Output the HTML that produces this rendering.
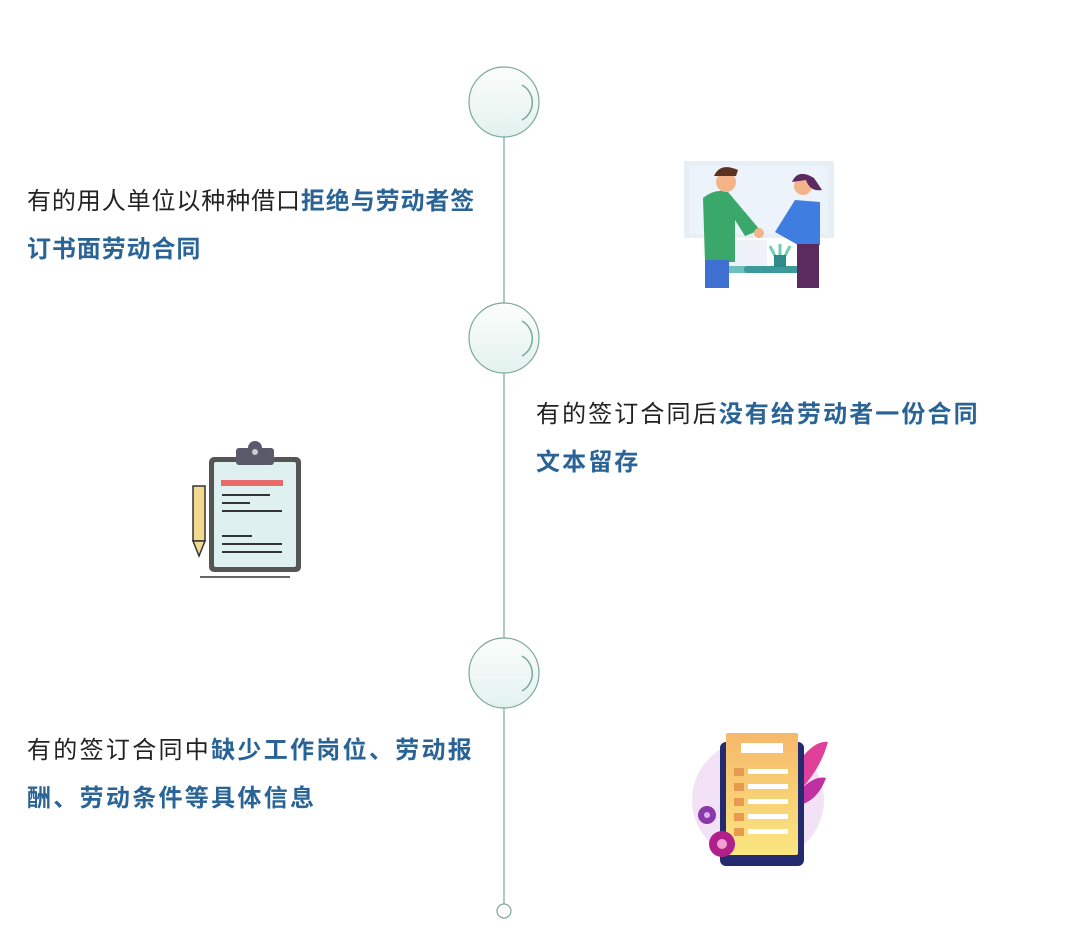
<!DOCTYPE html>
<html><head><meta charset="utf-8"><style>
body{margin:0;width:1069px;height:943px;background:#fff;position:relative;overflow:hidden;font-family:"Liberation Sans","Noto Sans CJK SC",sans-serif;}
.t{position:absolute;font-size:24px;line-height:48px;color:#222;white-space:nowrap;}
.t b{color:#2a6496;font-weight:bold;}
svg{position:absolute;left:0;top:0;}
</style></head><body>
<svg width="1069" height="943">
<defs><linearGradient id="g" x1="0" y1="0" x2="0" y2="1"><stop offset="0" stop-color="#fbfdfc"/><stop offset="1" stop-color="#e3f2ee"/></linearGradient>
<linearGradient id="p" x1="0" y1="0" x2="0" y2="1"><stop offset="0" stop-color="#f5b86a"/><stop offset="1" stop-color="#fbe680"/></linearGradient></defs>
<line x1="504" y1="137" x2="504" y2="904" stroke="#7aa89a" stroke-width="1.2"/>
<g fill="url(#g)" stroke="#7aa89a" stroke-width="1.2">
<circle cx="504" cy="102" r="35"/><circle cx="504" cy="338" r="35"/><circle cx="504" cy="673" r="35"/>
<circle cx="504" cy="911" r="7" fill="#fff"/></g>
<g fill="none" stroke="#7aa89a" stroke-width="1.5">
<path d="M522 85 A20 20 0 0 1 522 120"/><path d="M522 321 A20 20 0 0 1 522 356"/><path d="M522 656 A20 20 0 0 1 522 691"/></g>
<rect x="684" y="161" width="150" height="77" fill="#e6eef6"/>
<rect x="690" y="166" width="138" height="68" fill="#edf3fa"/>
<rect x="717" y="240" width="50" height="28" fill="#eef2f8"/>
<rect x="706" y="266" width="110" height="7" rx="3" fill="#6fbfbf"/>
<rect x="744" y="266" width="70" height="7" rx="3" fill="#3e9a9a"/>
<path d="M703 198 Q715 188 728 192 L760 230 L745 236 L735 220 L735 262 L705 262 Z" fill="#3aa86a"/>
<rect x="705" y="260" width="24" height="28" fill="#3f6fd0"/>
<circle cx="726" cy="182" r="10" fill="#f3b48a"/><path d="M714 176 Q720 162 738 170 L736 176 Z" fill="#5a3220"/>
<path d="M775 232 L795 200 L820 202 L820 245 L798 245 Z" fill="#3f7ee0"/>
<rect x="797" y="244" width="22" height="44" fill="#5b2a5e"/>
<circle cx="803" cy="186" r="9" fill="#f3b48a"/><path d="M792 182 Q798 168 814 178 L822 190 Q810 192 806 180 Z" fill="#5b2a5e"/>
<circle cx="759" cy="233" r="5" fill="#f3b48a"/>
<path d="M776 258 l-6-12 M780 258 v-14 M784 258 l6-12" stroke="#6fd0b0" stroke-width="3"/>
<rect x="774" y="255" width="12" height="12" fill="#2f8a8a"/>
<rect x="209" y="457" width="92" height="115" rx="5" fill="#555" />
<rect x="214" y="462" width="82" height="105" rx="2" fill="#dff0f0"/>
<rect x="236" y="448" width="38" height="17" rx="3" fill="#5a5a6a"/>
<circle cx="255" cy="448" r="7" fill="#5a5a6a"/><circle cx="255" cy="452" r="3" fill="#ccc"/>
<rect x="221" y="480" width="62" height="6" fill="#e86a6a"/>
<g stroke="#333" stroke-width="2"><line x1="222" y1="495" x2="270" y2="495"/><line x1="222" y1="503" x2="250" y2="503"/><line x1="222" y1="511" x2="282" y2="511"/><line x1="222" y1="536" x2="252" y2="536"/><line x1="222" y1="544" x2="282" y2="544"/><line x1="222" y1="552" x2="282" y2="552"/><line x1="200" y1="577" x2="290" y2="577" stroke-width="1.5"/></g>
<rect x="193" y="486" width="12" height="55" fill="#f3d890" stroke="#333" stroke-width="1.5"/>
<path d="M193 541 L199 556 L205 541 Z" fill="#f3d890" stroke="#333" stroke-width="1.5"/>
<ellipse cx="758" cy="800" rx="66" ry="62" fill="#f3e1f5"/>
<path d="M800 760 Q815 740 828 742 Q820 770 800 790 Z" fill="#e0409a"/>
<path d="M800 790 Q815 775 826 778 Q818 800 800 805 Z" fill="#c030a0"/>
<rect x="720" y="742" width="84" height="124" rx="6" fill="#242a6e"/>
<rect x="726" y="733" width="72" height="122" rx="2" fill="url(#p)"/>
<rect x="741" y="743" width="42" height="10" fill="#fff"/>
<g fill="#e89a50"><rect x="734" y="768" width="10" height="8"/><rect x="734" y="783" width="10" height="8"/><rect x="734" y="798" width="10" height="8"/><rect x="734" y="813" width="10" height="8"/><rect x="734" y="828" width="10" height="8"/></g>
<g fill="#fff"><rect x="748" y="769" width="40" height="5"/><rect x="748" y="784" width="40" height="5"/><rect x="748" y="799" width="40" height="5"/><rect x="748" y="814" width="40" height="5"/><rect x="748" y="829" width="40" height="5"/></g>
<circle cx="722" cy="844" r="13" fill="#b0208a"/><circle cx="722" cy="844" r="5" fill="#f3a0d0"/>
<circle cx="707" cy="815" r="9" fill="#8a3aa8"/><circle cx="707" cy="815" r="3" fill="#e0b0f0"/>
</svg>
<div class="t" style="left:27px;top:178px;letter-spacing:0.9px;">有的用人单位以种种借口<b>拒绝与劳动者签</b><br><b>订书面劳动合同</b></div>
<div class="t" style="left:536px;top:391px;letter-spacing:2.1px;">有的签订合同后<b>没有给劳动者一份合同</b><br><b>文本留存</b></div>
<div class="t" style="left:27px;top:727px;letter-spacing:2.3px;">有的签订合同中<b>缺少工作岗位、劳动报</b><br><b>酬、劳动条件等具体信息</b></div>
</body></html>
